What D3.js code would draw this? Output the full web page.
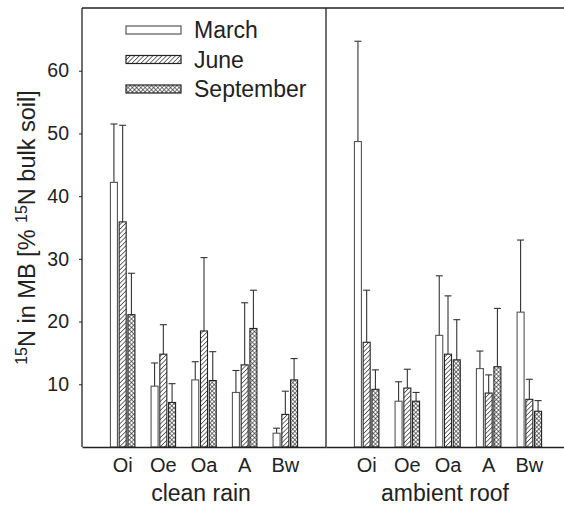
<!DOCTYPE html>
<html>
<head>
<meta charset="utf-8">
<script src="https://cdn.jsdelivr.net/npm/d3@7"></script>
<style>
	body { margin: 0; background: #fff; }
	svg text { font-family: "Liberation Sans", Arial, Helvetica, sans-serif; fill: #222; }
</style>
</head>
<body>
<svg id="chart" width="564" height="507"></svg>
<script>
// data (mean, and error bar length above the mean)
var horizons = ["Oi", "Oe", "Oa", "A", "Bw"];
var months = ["March", "June", "September"];
var panels = ["clean rain", "ambient roof"];
var yTicks = [10, 20, 30, 40, 50, 60];

var cleanMarch = [42.2, 9.7, 10.7, 8.7, 2.2];
var cleanMarchErr = [9.3, 3.7, 2.9, 3.5, 0.8];
var cleanJune = [35.9, 14.8, 18.5, 13.1, 5.2];
var cleanJuneErr = [15.4, 4.7, 11.7, 9.9, 3.7];
var cleanSept = [21.1, 7.1, 10.6, 18.9, 10.7];
var cleanSeptErr = [6.6, 3.0, 4.6, 6.1, 3.4];

var roofMarch = [48.7, 7.3, 17.8, 12.5, 21.5];
var roofMarchErr = [16.0, 3.1, 9.5, 2.8, 11.5];
var roofJune = [16.7, 9.4, 14.8, 8.6, 7.6];
var roofJuneErr = [8.3, 3.0, 9.3, 2.9, 3.2];
var roofSept = [9.2, 7.3, 13.9, 12.8, 5.7];
var roofSeptErr = [3.1, 1.4, 6.4, 9.3, 1.7];

var series = {
	"clean rain": [[cleanMarch, cleanMarchErr], [cleanJune, cleanJuneErr], [cleanSept, cleanSeptErr]],
	"ambient roof": [[roofMarch, roofMarchErr], [roofJune, roofJuneErr], [roofSept, roofSeptErr]]
};

var svg = d3.select("#chart");

var plotLeft = 82, plotTop = 8, plotBottom = 447, plotMid = 326, plotRight = 570;

var y = d3.scaleLinear().domain([0, 70]).range([plotBottom, plotTop]);

var panelX = d3.scaleOrdinal().domain(panels).range([[plotLeft, plotMid], [plotMid, plotRight]]);

var inner = d3.scaleBand().domain(months).range([-14, 14]).padding(0.2);

// patterns
var defs = svg.append("defs");
var hatch = defs.append("pattern")
	.attr("id", "hatch")
	.attr("patternUnits", "userSpaceOnUse")
	.attr("width", 3.2).attr("height", 3.2)
	.attr("patternTransform", "rotate(45)");
hatch.append("rect").attr("width", 3.2).attr("height", 3.2).attr("fill", "#fff");
hatch.append("line").attr("x1", 0).attr("y1", 0).attr("x2", 0).attr("y2", 3.2)
	.attr("stroke", "#222").attr("stroke-width", 1.3);

var cross = defs.append("pattern")
	.attr("id", "cross")
	.attr("patternUnits", "userSpaceOnUse")
	.attr("width", 3).attr("height", 3)
	.attr("patternTransform", "rotate(45)");
cross.append("rect").attr("width", 3).attr("height", 3).attr("fill", "#fff");
cross.append("line").attr("x1", 0).attr("y1", 0).attr("x2", 0).attr("y2", 3)
	.attr("stroke", "#222").attr("stroke-width", 1.2);
cross.append("line").attr("x1", 0).attr("y1", 0).attr("x2", 3).attr("y2", 0)
	.attr("stroke", "#222").attr("stroke-width", 1.2);

var fills = { "March": "#fff", "June": "url(#hatch)", "September": "url(#cross)" };
var strokes = { "March": "#555", "June": "#222", "September": "#222" };

// frame
svg.append("line").attr("x1", plotLeft).attr("x2", plotRight).attr("y1", plotTop).attr("y2", plotTop)
	.attr("stroke", "#222").attr("stroke-width", 1.3);
svg.append("line").attr("x1", plotRight).attr("x2", plotRight).attr("y1", plotTop).attr("y2", plotBottom)
	.attr("stroke", "#222").attr("stroke-width", 1.3);
svg.append("line").attr("x1", plotMid).attr("x2", plotMid).attr("y1", plotTop).attr("y2", plotBottom)
	.attr("stroke", "#222").attr("stroke-width", 1.3);

panels.forEach(function(p) {
	var x = d3.scaleBand().domain(horizons).range(panelX(p)).paddingOuter(0.5).paddingInner(0);
	var g = svg.append("g");

	series[p].forEach(function(s, si) {
		var m = months[si];
		var vals = s[0], errs = s[1];
		horizons.forEach(function(h, i) {
			var cx = x(h) + x.bandwidth() / 2 + inner(m) + inner.bandwidth() / 2;
			var errTop = y(vals[i] + errs[i]);
			// error bar
			g.append("line")
				.attr("x1", cx).attr("x2", cx)
				.attr("y1", y(vals[i])).attr("y2", errTop)
				.attr("stroke", "#333").attr("stroke-width", 1.1);
			g.append("line")
				.attr("x1", cx - 3.5).attr("x2", cx + 3.5)
				.attr("y1", errTop).attr("y2", errTop)
				.attr("stroke", "#333").attr("stroke-width", 1.1);
			g.append("rect")
				.attr("x", x(h) + x.bandwidth() / 2 + inner(m))
				.attr("y", y(vals[i]))
				.attr("width", inner.bandwidth())
				.attr("height", y(0) - y(vals[i]))
				.attr("fill", fills[m])
				.attr("stroke", strokes[m])
				.attr("stroke-width", 1.1);
		});
	});

	var xAxis = d3.axisBottom(x).tickSize(0).tickPadding(11);
	var ax = svg.append("g")
		.attr("transform", "translate(0," + plotBottom + ")")
		.call(xAxis);
	ax.select(".domain").attr("stroke", "#222").attr("stroke-width", 1.3);
	ax.selectAll("text").style("font-size", "20px").attr("dy", "0.71em");

	var pr = panelX(p);
	svg.append("text")
		.attr("x", (pr[0] + pr[1]) / 2 - 3)
		.attr("y", 501)
		.attr("text-anchor", "middle")
		.style("font-size", "23px")
		.text(p);
});

// y axis
var yAxis = d3.axisLeft(y).tickValues(yTicks).tickSize(3).tickPadding(10);
var ay = svg.append("g")
	.attr("transform", "translate(" + plotLeft + ",0)")
	.call(yAxis);
ay.select(".domain").remove();
ay.append("line").attr("x1", 0).attr("x2", 0).attr("y1", plotTop).attr("y2", plotBottom)
	.attr("stroke", "#222").attr("stroke-width", 1.3);
ay.selectAll("text").style("font-size", "19.5px").attr("fill", "#222");
ay.selectAll(".tick line").attr("stroke", "#222");

// y title
var title = svg.append("text")
	.attr("transform", "translate(35," + ((plotTop + plotBottom) / 2) + ") rotate(-90)")
	.attr("text-anchor", "middle")
	.style("font-size", "23.5px");
title.append("tspan").attr("font-size", "16px").attr("dy", "-8").text("15");
title.append("tspan").attr("dy", "8").text("N in MB [% ");
title.append("tspan").attr("font-size", "16px").attr("dy", "-8").text("15");
title.append("tspan").attr("dy", "8").text("N bulk soil]");

// legend
var legend = svg.append("g").attr("transform", "translate(126,30)");
months.forEach(function(m, i) {
	var row = legend.append("g").attr("transform", "translate(0," + (i * 29.5) + ")");
	row.append("rect")
		.attr("x", 0).attr("y", -4)
		.attr("width", 55).attr("height", 8)
		.attr("fill", fills[m])
		.attr("stroke", strokes[m])
		.attr("stroke-width", 1.2);
	row.append("text")
		.attr("x", 68).attr("y", 8)
		.style("font-size", "23px")
		.text(m);
});
</script>
</body>
</html>
